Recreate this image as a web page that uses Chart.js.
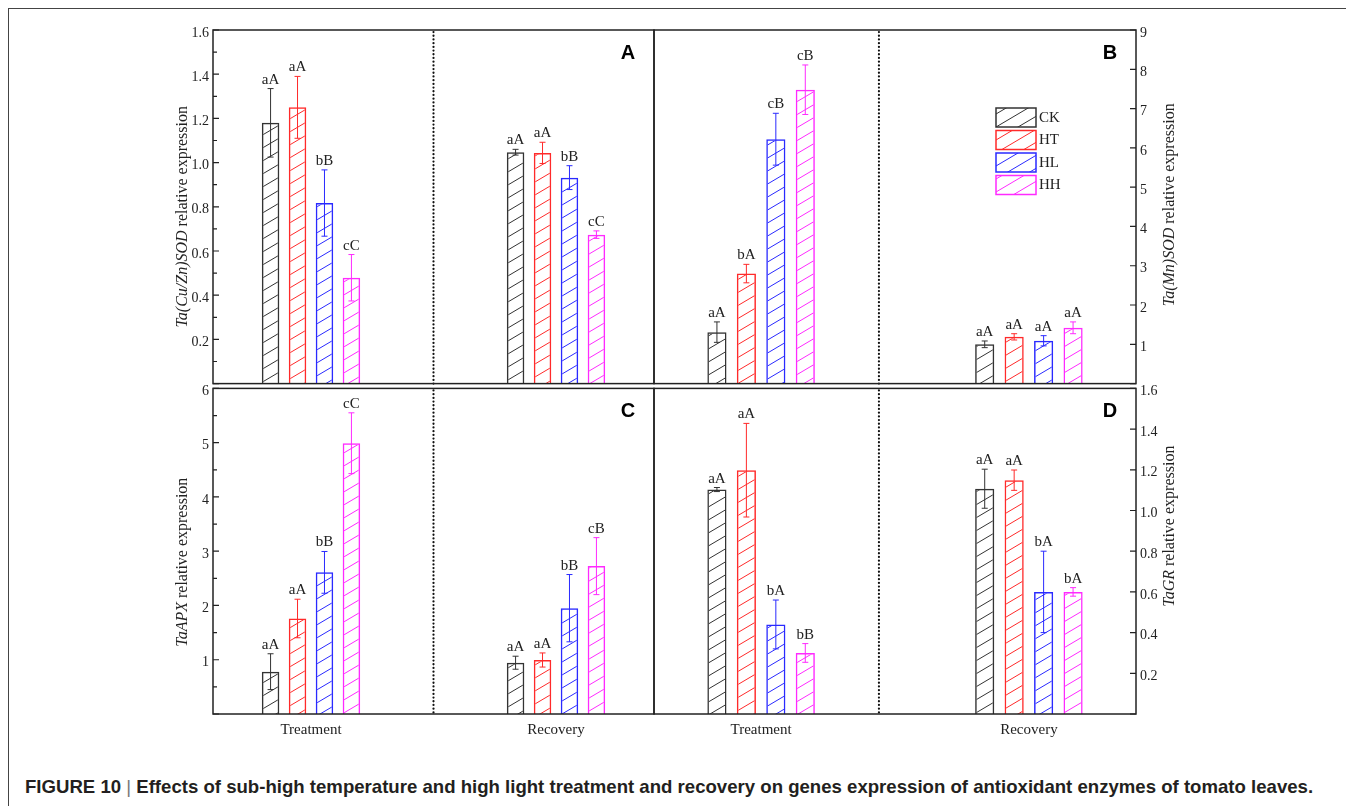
<!DOCTYPE html>
<html>
<head>
<meta charset="utf-8">
<script src="https://cdn.jsdelivr.net/npm/chart.js@4.4.1/dist/chart.umd.min.js"></script>
<style>
  body { margin: 0; background: #fff; width: 1346px; height: 806px; overflow: hidden; position: relative; }
  #frame { position: absolute; left: 8px; top: 8px; width: 1400px; height: 900px; border-top: 1.5px solid #444; border-left: 1.5px solid #444; }
  canvas { position: absolute; }
  #caption { position: absolute; left: 25px; top: 776px; font: bold 18.6px "Liberation Sans", Arial, sans-serif; color: #231f20; white-space: nowrap; }
  #caption .sep { font-weight: normal; color: #777; }
</style>
</head>
<body>
<div id="frame"></div>
<canvas id="panelA" width="564" height="386" style="left:100px;top:10px"></canvas>
<canvas id="panelB" width="592" height="386" style="left:644px;top:10px"></canvas>
<canvas id="panelC" width="564" height="368" style="left:100px;top:376px"></canvas>
<canvas id="panelD" width="592" height="368" style="left:644px;top:376px"></canvas>
<div id="caption">FIGURE 10 <span class="sep">|</span> Effects of sub-high temperature and high light treatment and recovery on genes expression of antioxidant enzymes of tomato leaves.</div>

<script>
const categories = ['Treatment', 'Recovery'];
const groups = ['CK', 'HT', 'HL', 'HH'];
const colors = ['#333333', '#ff2a2a', '#2a2aff', '#ff2aff'];

// A: Ta(Cu/Zn)SOD  (rows = CK, HT, HL, HH; columns = Treatment, Recovery)
const cuznMean = [[1.18, 1.047], [1.25, 1.044], [0.817, 0.932], [0.479, 0.674]];
const cuznErr = [[0.155, 0.013], [0.14, 0.048], [0.15, 0.054], [0.105, 0.017]];
const cuznLetters = [['aA', 'aA'], ['aA', 'aA'], ['bB', 'bB'], ['cC', 'cC']];

// B: Ta(Mn)SOD
const mnMean = [[1.31, 1.0], [2.8, 1.19], [6.22, 1.09], [7.48, 1.42]];
const mnErr = [[0.26, 0.085], [0.235, 0.08], [0.66, 0.13], [0.63, 0.15]];
const mnLetters = [['aA', 'aA'], ['bA', 'aA'], ['cB', 'aA'], ['cB', 'aA']];

// C: TaAPX
const apxMean = [[0.78, 0.945], [1.76, 0.995], [2.61, 1.95], [4.99, 2.725]];
const apxErr = [[0.33, 0.12], [0.355, 0.13], [0.385, 0.62], [0.56, 0.525]];
const apxLetters = [['aA', 'aA'], ['aA', 'aA'], ['bB', 'bB'], ['cC', 'cB']];

// D: TaGR
const grMean = [[1.103, 1.107], [1.198, 1.149], [0.44, 0.6], [0.3, 0.6]];
const grErr = [[0.01, 0.096], [0.23, 0.05], [0.12, 0.2], [0.046, 0.021]];
const grLetters = [['aA', 'aA'], ['aA', 'aA'], ['bA', 'bA'], ['bB', 'bA']];

Chart.defaults.font.family = '"Liberation Serif", "Times New Roman", serif';
Chart.defaults.color = '#222';

function hatch(color) {
  const w = 22, h = 13;
  const c = document.createElement('canvas');
  c.width = w; c.height = h;
  const g = c.getContext('2d');
  g.strokeStyle = color;
  g.lineWidth = 1;
  g.beginPath();
  for (let dx = -1; dx <= 1; dx++) {
    for (let dy = -1; dy <= 1; dy++) {
      g.moveTo(dx * w, h + dy * h);
      g.lineTo(w + dx * w, dy * h);
    }
  }
  g.stroke();
  return g.createPattern(c, 'repeat');
}

const panelPlugin = {
  id: 'panel',
  afterDatasetsDraw(chart) {
    const ctx = chart.ctx, ys = chart.scales.y;
    chart.data.datasets.forEach((ds, i) => {
      const meta = chart.getDatasetMeta(i);
      ctx.save();
      meta.data.forEach((bar, j) => {
        const m = ds.data[j].y, e = ds.errors[j];
        const top = ys.getPixelForValue(m + e), bot = ys.getPixelForValue(m - e);
        ctx.strokeStyle = ds.borderColor;
        ctx.lineWidth = 1;
        ctx.beginPath();
        ctx.moveTo(bar.x, top); ctx.lineTo(bar.x, bot);
        ctx.moveTo(bar.x - 3, top); ctx.lineTo(bar.x + 3, top);
        ctx.moveTo(bar.x - 3, bot); ctx.lineTo(bar.x + 3, bot);
        ctx.stroke();
        ctx.fillStyle = '#222';
        ctx.font = '15px "Liberation Serif"';
        ctx.textAlign = 'center';
        ctx.textBaseline = 'alphabetic';
        ctx.fillText(ds.letters[j], bar.x, top - 5);
      });
      ctx.restore();
    });
  },
  afterDraw(chart, args, o) {
    const ctx = chart.ctx, a = chart.chartArea;
    const xs = chart.scales.x, ys = chart.scales.y;
    ctx.save();

    // dotted divider between Treatment and Recovery
    const dx = xs.getPixelForValue(o.divider);
    ctx.strokeStyle = '#111';
    ctx.lineWidth = 2.2;
    ctx.lineCap = 'round';
    ctx.setLineDash([0.1, 3.6]);
    ctx.beginPath();
    ctx.moveTo(dx, a.top + 2); ctx.lineTo(dx, a.bottom);
    ctx.stroke();
    ctx.setLineDash([]);
    ctx.lineCap = 'butt';

    // frame
    ctx.strokeStyle = '#222';
    ctx.lineWidth = 1.5;
    ctx.strokeRect(a.left, a.top, a.width, a.height);

    // tick marks (inside)
    const x0 = o.side === 'left' ? a.left : a.right;
    const dir = o.side === 'left' ? 1 : -1;
    ctx.lineWidth = 1.2;
    ctx.beginPath();
    ys.ticks.forEach(t => {
      const py = ys.getPixelForValue(t.value);
      ctx.moveTo(x0, py); ctx.lineTo(x0 + dir * 6, py);
    });
    if (o.minor) {
      for (let v = ys.min; v <= ys.max + 1e-9; v += o.minor) {
        const r = v / o.step;
        if (Math.abs(r - Math.round(r)) < 1e-6) continue;
        const py = ys.getPixelForValue(v);
        ctx.moveTo(x0, py); ctx.lineTo(x0 + dir * 4, py);
      }
    }
    ctx.stroke();

    // panel letter
    ctx.fillStyle = '#000';
    ctx.font = 'bold 20px "Liberation Sans"';
    ctx.textAlign = 'center';
    ctx.textBaseline = 'middle';
    ctx.fillText(o.letter, a.right - 26, a.top + 23);

    // axis title with italic gene name
    const tx = o.side === 'left' ? a.left - 30 : a.right + 34;
    const ty = (a.top + a.bottom) / 2 + o.titleDy;
    ctx.translate(tx, ty);
    ctx.rotate(-Math.PI / 2);
    ctx.fillStyle = '#222';
    ctx.textAlign = 'left';
    const fonts = ['italic 16px "Liberation Serif"', '16px "Liberation Serif"'];
    const parts = [o.gene, ' relative expression'];
    let total = 0;
    parts.forEach((p, k) => { ctx.font = fonts[k]; total += ctx.measureText(p).width; });
    let cx = -total / 2;
    parts.forEach((p, k) => { ctx.font = fonts[k]; ctx.fillText(p, cx, 0); cx += ctx.measureText(p).width; });
    ctx.restore();

    // legend
    if (o.legend) {
      ctx.save();
      chart.data.datasets.forEach((ds, i) => {
        const lx = a.right - 140, ly = a.top + 78 + i * 22.5;
        ctx.fillStyle = ds.backgroundColor;
        ctx.fillRect(lx, ly, 40, 19);
        ctx.strokeStyle = ds.borderColor;
        ctx.lineWidth = 1.5;
        ctx.strokeRect(lx, ly, 40, 19);
        ctx.fillStyle = '#222';
        ctx.font = '15px "Liberation Serif"';
        ctx.textAlign = 'left';
        ctx.textBaseline = 'middle';
        ctx.fillText(ds.label, lx + 43, ly + 10);
      });
      ctx.restore();
    }
  }
};

function makeChart(id, p) {
  return new Chart(document.getElementById(id), {
    type: 'bar',
    data: {
      datasets: groups.map((g, k) => ({
        label: g,
        data: p.mean[k].map((v, i) => ({ x: i, y: v })),
        errors: p.err[k],
        letters: p.letters[k],
        backgroundColor: hatch(colors[k]),
        borderColor: colors[k],
        borderWidth: 1.5,
        categoryPercentage: 0.44,
        barPercentage: 0.65
      }))
    },
    options: {
      responsive: false,
      animation: false,
      events: [],
      layout: { padding: p.padding },
      plugins: {
        legend: { display: false },
        tooltip: { enabled: false },
        panel: {
          side: p.side, divider: p.divider, letter: p.letter, gene: p.gene,
          titleDy: p.titleDy, step: p.step, minor: p.minor, legend: p.legend
        }
      },
      scales: {
        x: {
          type: 'linear', min: -0.4, max: 1.4, offset: false, display: p.showX,
          afterBuildTicks: s => { s.ticks = categories.map((c, i) => ({ value: i })); },
          afterFit: s => { if (p.showX) s.height = 30; },
          grid: { display: false, drawTicks: false, offset: false },
          border: { display: false },
          ticks: { padding: 7, font: { size: 15 }, callback: v => categories[v] }
        },
        y: {
          position: p.side, min: 0, max: p.max,
          afterFit: s => { s.width = p.axisWidth; },
          grid: { display: false, drawTicks: false },
          border: { display: false },
          ticks: {
            stepSize: p.step, padding: 4, labelOffset: 3, font: { size: 14 },
            callback: v => (Math.abs(v) < 1e-9 ? '' : v.toFixed(p.dec))
          }
        }
      }
    },
    plugins: [panelPlugin]
  });
}

makeChart('panelA', {
  mean: cuznMean, err: cuznErr, letters: cuznLetters, gene: 'Ta(Cu/Zn)SOD', letter: 'A',
  side: 'left', max: 1.6, step: 0.2, minor: 0.1, dec: 1, divider: 0.5, titleDy: 10,
  axisWidth: 113, padding: { top: 20, right: 10, bottom: 10, left: 0 }, showX: false, legend: false
});
makeChart('panelB', {
  mean: mnMean, err: mnErr, letters: mnLetters, gene: 'Ta(Mn)SOD', letter: 'B',
  side: 'right', max: 9, step: 1, minor: 0, dec: 0, divider: 0.44, titleDy: -2,
  axisWidth: 100, padding: { top: 20, right: 0, bottom: 10, left: 10 }, showX: false, legend: true
});
makeChart('panelC', {
  mean: apxMean, err: apxErr, letters: apxLetters, gene: 'TaAPX', letter: 'C',
  side: 'left', max: 6, step: 1, minor: 0.5, dec: 0, divider: 0.5, titleDy: 11,
  axisWidth: 113, padding: { top: 10, right: 10, bottom: 0, left: 0 }, showX: true, legend: false
});
makeChart('panelD', {
  mean: grMean, err: grErr, letters: grLetters, gene: 'TaGR', letter: 'D',
  side: 'right', max: 1.6, step: 0.2, minor: 0, dec: 1, divider: 0.44, titleDy: -25,
  axisWidth: 100, padding: { top: 10, right: 0, bottom: 0, left: 10 }, showX: true, legend: false
});
</script>
</body>
</html>
